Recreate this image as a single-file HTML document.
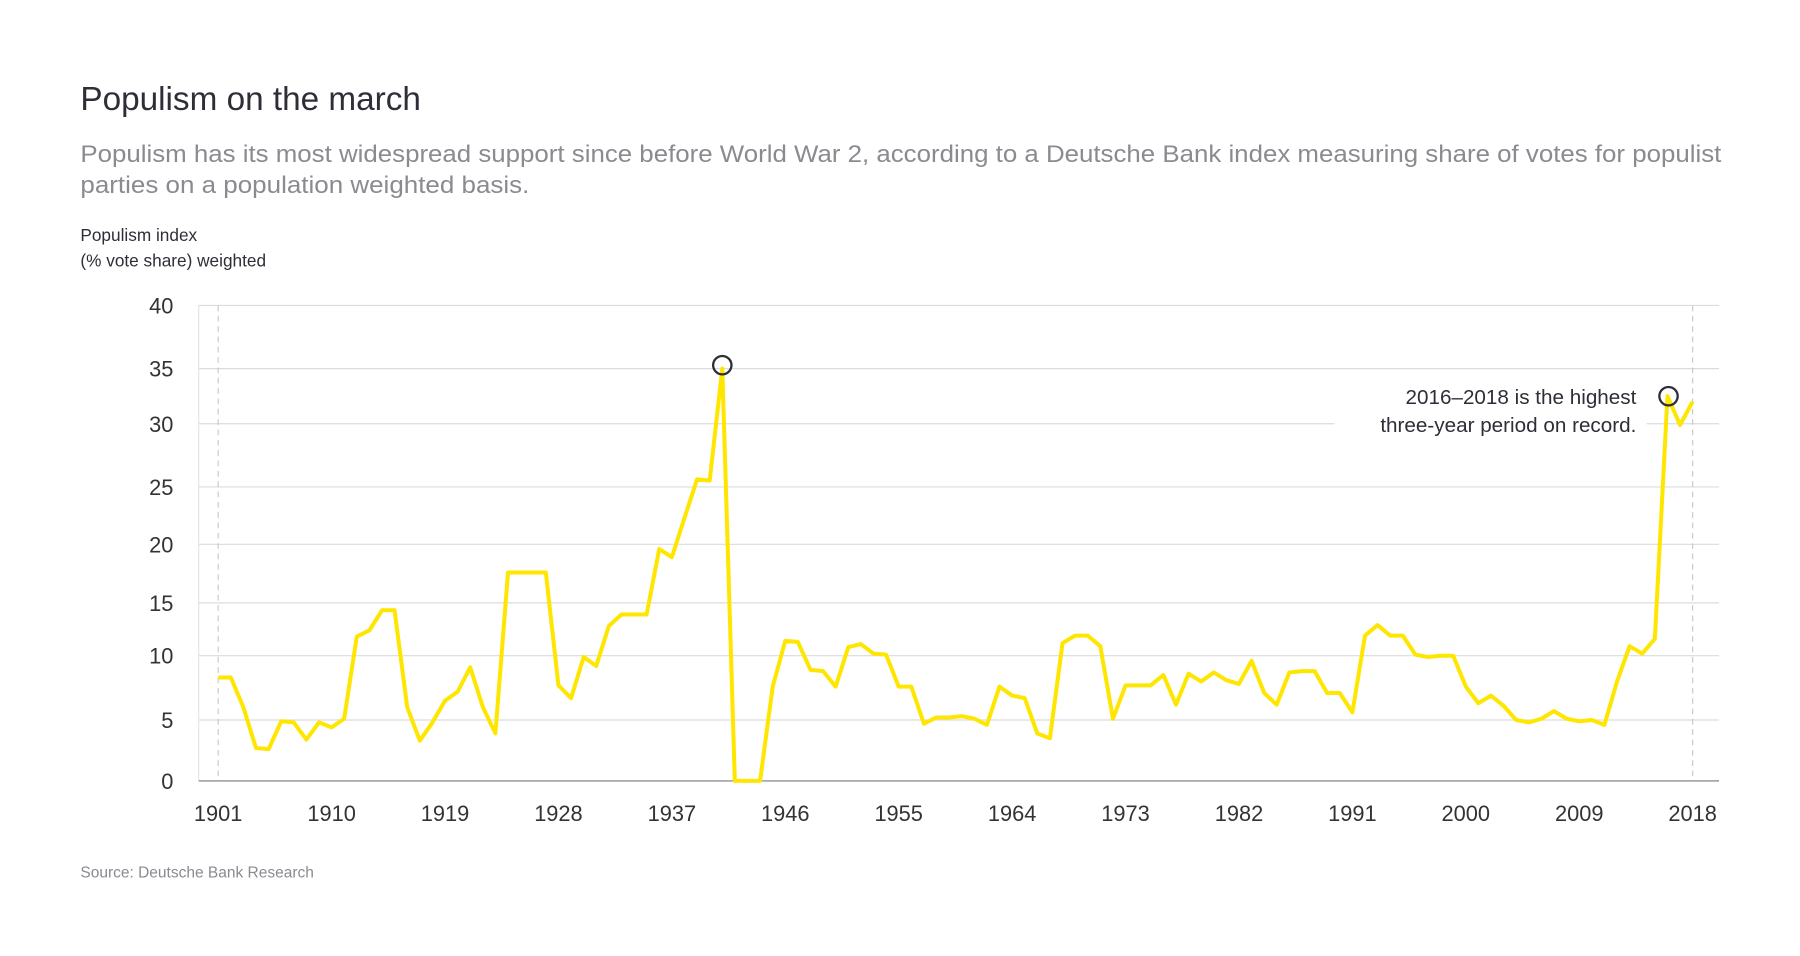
<!DOCTYPE html>
<html><head><meta charset="utf-8"><style>
html,body{margin:0;padding:0;background:#fff;width:1800px;height:956px;overflow:hidden}
svg{display:block}
text{font-family:"Liberation Sans",sans-serif}
</style></head><body>
<svg id="s" width="1800" height="956" viewBox="0 0 1567.5 832.5" xmlns="http://www.w3.org/2000/svg">
<text x="70" y="96" font-size="29" fill="#2e2e38">Populism on the march</text>
<text x="70" y="141" font-size="21" fill="#8a8a91" textLength="1429" lengthAdjust="spacingAndGlyphs">Populism has its most widespread support since before World War 2, according to a Deutsche Bank index measuring share of votes for populist</text>
<text x="70" y="168" font-size="21" fill="#8a8a91" textLength="391" lengthAdjust="spacingAndGlyphs">parties on a population weighted basis.</text>
<text x="70" y="210" font-size="15" fill="#2e2e38">Populism index</text>
<text x="70" y="232" font-size="15" fill="#2e2e38">(% vote share) weighted</text>
<g id="grid" stroke="#dcdcdf" stroke-width="1"></g>
<line x1="190" y1="266" x2="190" y2="680" stroke="#c8c8cc" stroke-dasharray="5,4"/>
<line x1="1474" y1="266" x2="1474" y2="680" stroke="#c8c8cc" stroke-dasharray="5,4"/>
<line x1="173" y1="266" x2="173" y2="680" stroke="#e4e4e6"/>
<line x1="173" y1="680" x2="1497" y2="680" stroke="#a8a8ad" stroke-width="1.5"/>
<g id="ylab" font-size="19" fill="#333" text-anchor="end"></g>
<g id="xlab" font-size="19" fill="#333" text-anchor="middle"></g>
<rect x="1162" y="332" width="272" height="50" fill="#fff"/>
<polyline id="line" fill="none" stroke="#ffe600" stroke-width="3.5" stroke-linejoin="round"/>
<circle cx="629" cy="318" r="8" fill="none" stroke="#2e2e38" stroke-width="2"/>
<circle cx="1453" cy="345" r="8" fill="none" stroke="#2e2e38" stroke-width="2"/>
<text x="1425" y="352" font-size="18" fill="#2e2e38" text-anchor="end">2016–2018 is the highest</text>
<text x="1425" y="376" font-size="18" fill="#2e2e38" text-anchor="end">three-year period on record.</text>
<text x="70" y="764" font-size="13.5" fill="#8a8a91">Source: Deutsche Bank Research</text>
</svg>
<script>
var yv={0:680,5:627,10:571,15:525,20:474,25:424,30:369,35:321,40:266};
function Y(v){var k=Math.min(35,Math.floor(v/5)*5);var a=yv[k],b=yv[k+5];return a+(b-a)*(v-k)/5;}
function X(y){return 190+(y-1901)*1284/117;}
var ns="http://www.w3.org/2000/svg";
var g=document.getElementById('grid'),yl=document.getElementById('ylab'),xl=document.getElementById('xlab');
for(var v=5;v<=40;v+=5){var l=document.createElementNS(ns,'line');l.setAttribute('x1',173);l.setAttribute('x2',1497);l.setAttribute('y1',yv[v]);l.setAttribute('y2',yv[v]);g.appendChild(l);}
for(var v=0;v<=40;v+=5){var t=document.createElementNS(ns,'text');t.setAttribute('x',151);t.setAttribute('y',yv[v]+7);t.textContent=v;yl.appendChild(t);}
for(var y=1901;y<=2018;y+=9){var t=document.createElementNS(ns,'text');t.setAttribute('x',X(y));t.setAttribute('y',715);t.textContent=y;xl.appendChild(t);}
var d=[8.3,8.3,6,2.7,2.6,4.9,4.8,3.4,4.8,4.4,5.1,11.8,12.4,14.3,14.3,6,3.3,4.8,6.5,7.2,9.1,6,3.9,17.6,17.6,17.6,17.6,7.7,6.7,9.9,9.2,12.8,13.9,13.9,13.9,19.6,18.9,22.3,25.6,25.5,35,0,0,0,7.6,11.4,11.3,8.9,8.8,7.6,10.8,11.1,10.2,10.1,7.6,7.6,4.7,5.2,5.2,5.3,5.1,4.6,7.6,6.9,6.7,3.9,3.5,11.2,11.9,11.9,10.9,5.1,7.7,7.7,7.7,8.5,6.2,8.6,8.0,8.7,8.1,7.8,9.6,7.1,6.2,8.7,8.8,8.8,7.1,7.1,5.6,11.9,12.9,11.9,11.9,10.1,9.9,10.0,10.0,7.6,6.3,6.9,6.1,5.0,4.8,5.1,5.7,5.1,4.9,5.0,4.6,8.0,10.9,10.2,11.6,32.5,29.9,32.0];
var p=d.map(function(v,i){return X(1901+i).toFixed(1)+','+Y(v).toFixed(1);}).join(' ');
document.getElementById('line').setAttribute('points',p);
</script>
</body></html>
